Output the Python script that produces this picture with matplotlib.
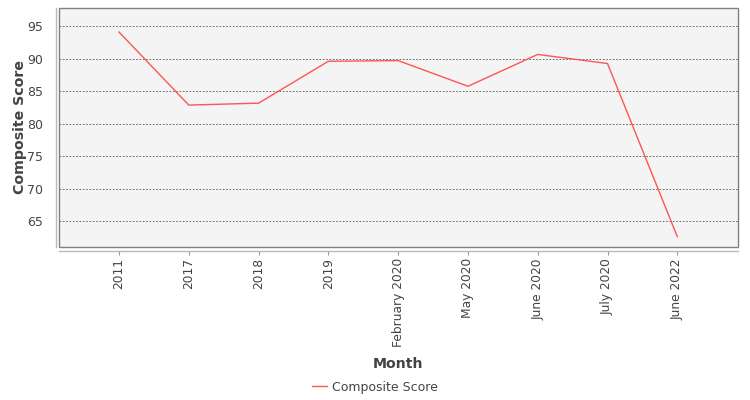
import matplotlib
matplotlib.use("Agg")
import matplotlib.pyplot as plt
from matplotlib.lines import Line2D
from matplotlib.patches import Rectangle

months = ["2011", "2017", "2018", "2019", "February 2020", "May 2020",
          "June 2020", "July 2020", "June 2022"]
composite_score = [94.1, 82.85, 83.15, 89.6, 89.7, 85.75, 90.65, 89.25, 62.6]

W, H = 750, 400
fig = plt.figure(figsize=(W / 100, H / 100), dpi=100)
# plot box in pixels: left 59, right 738, top 8, bottom 247
ax = fig.add_axes([59 / W, 1 - 247 / H, 679 / W, 239 / H])
ax.set_facecolor("#f4f4f4")

# plot outline drawn as a box, axis lines pushed outward like the original
ax.add_patch(Rectangle((0, 0), 1, 1, transform=ax.transAxes, fill=False,
                       edgecolor="#808080", lw=1.0, clip_on=False, zorder=5))
ax.spines["top"].set_visible(False)
ax.spines["right"].set_visible(False)
ax.spines["bottom"].set_position(("outward", 3))
ax.spines["left"].set_position(("outward", 2.2))
for side in ("bottom", "left"):
    ax.spines[side].set_color("#b8b8b8")
    ax.spines[side].set_linewidth(1.0)

x = list(range(len(months)))
ax.plot(x, composite_score, color="#ff5555", lw=1.0, label="Composite Score")

ax.set_xlim(-0.86, 8.87)
ax.set_ylim(61.0, 97.8)
ax.set_yticks([65, 70, 75, 80, 85, 90, 95])
ax.set_xticks(x)
ax.set_xticklabels(months)
ax.yaxis.grid(True, color="#555555", linestyle=(0, (2, 2)), lw=0.6)
ax.set_axisbelow(True)

ax.tick_params(axis="y", length=0, pad=9, labelsize=9, labelcolor="#444444")
ax.tick_params(axis="x", length=3, width=0.8, color="#999999", pad=2,
               labelsize=8.8, labelcolor="#444444", direction="out",
               labelrotation=90)

fig.text(20 / W, 1 - 127 / H, "Composite Score", rotation=90, ha="center",
         va="center", fontsize=10.2, fontweight="bold", color="#444444")
fig.text(398 / W, 1 - 364 / H, "Month", ha="center", va="center",
         fontsize=10.2, fontweight="bold", color="#444444")

fig.legend(handles=[Line2D([], [], color="#ff5555", lw=1.0)],
           labels=["Composite Score"], loc="center",
           bbox_to_anchor=(375 / W, 1 - 387 / H), frameon=False,
           fontsize=9, handlelength=1.2, handletextpad=0.4,
           labelcolor="#444444")

fig.savefig("out.png", dpi=100)
